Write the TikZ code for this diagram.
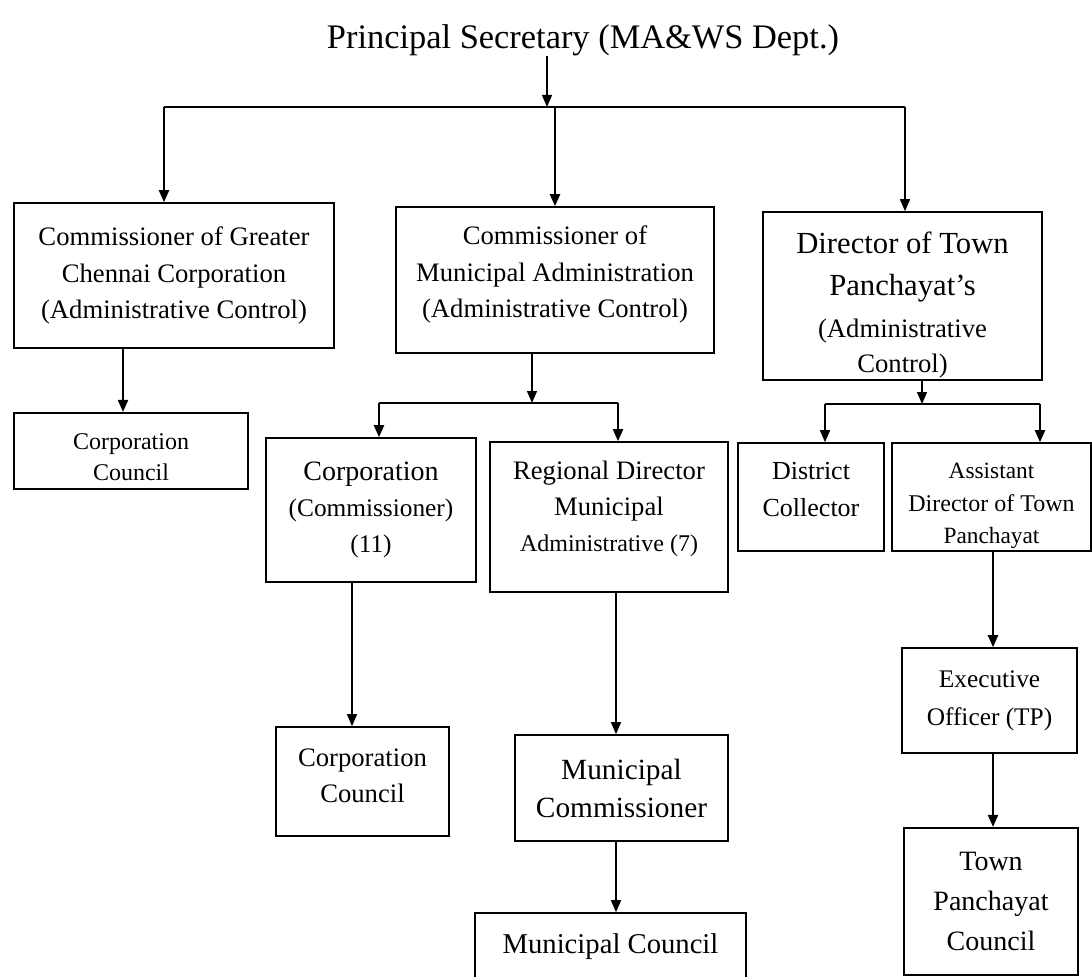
\documentclass[tikz,border=0pt]{standalone}
\usepackage{fontspec}
\setmainfont{Liberation Serif}
\usetikzlibrary{arrows.meta}

% font size helper: size and baseline skip in pt
\newcommand{\fsz}[2]{\fontsize{#1}{#2}\selectfont}
% invisible struts that push a text block down (taller first line) or up (deeper last line)
\newcommand{\tallstrut}[1]{\rule{0pt}{#1}}
\newcommand{\deepstrut}[1]{\rule[-#1]{0pt}{#1}}

\begin{document}
\begin{tikzpicture}[x=0.75pt,y=-0.75pt,
  box/.style={draw, rectangle, line width=1.2pt, inner sep=0pt, align=center},
  link/.style={line width=0.9pt},
  heavy/.style={line width=1.6pt},
  arr/.style={link, -{Triangle[length=9pt,width=7.5pt]}},
  harr/.style={heavy, -{Triangle[length=9pt,width=7.5pt]}},
]
\useasboundingbox (0,0) rectangle (1092,977);
\clip (0,0) rectangle (1092,977);
\fill[white] (0,0) rectangle (1092,977);

% ---- top level ----
\node[inner sep=0pt, font=\fsz{25.8}{30}] (ps) at (583,40) {Principal Secretary (MA\&WS Dept.)};

\node[box, minimum width=240pt, minimum height=108.75pt, font=\fsz{20}{27.4}] (b1) at (174,275.5)
  {Commissioner of Greater\\Chennai Corporation\\(Administrative Control)};
\node[box, minimum width=238.5pt, minimum height=109.5pt, font=\fsz{20}{27.4}] (b2) at (555,280)
  {Commissioner of\\Municipal Administration\\(Administrative Control)\deepstrut{12pt}};
\node[box, minimum width=209.25pt, minimum height=126pt, font=\fsz{23}{31.5}] (b3) at (902.5,296)
  {\tallstrut{30pt}Director of Town\\Panchayat's\\{\fsz{20}{26}(Administrative}\\[-5.25pt]{\fsz{20}{26}Control)}};

% ---- second level ----
\node[box, line width=1.6pt, minimum width=175.5pt, minimum height=57pt, font=\fsz{18}{23.3}] (cc1) at (131,451)
  {\tallstrut{21pt}Corporation\\Council};
\node[box, minimum width=157.5pt, minimum height=108pt, font=\fsz{19}{27}] (c11) at (371,510)
  {{\fsz{21}{28}Corporation}\\(Commissioner)\\(11)};
\node[box, minimum width=178.5pt, minimum height=112.5pt, font=\fsz{20}{27}] (rd) at (609,517)
  {Regional Director\\Municipal\\{\fsz{18}{27}Administrative (7)\deepstrut{16pt}}};
\node[box, minimum width=109.5pt, minimum height=81pt, font=\fsz{19.5}{27.8}] (dc) at (811,497)
  {District\\Collector\deepstrut{12pt}};
\node[box, minimum width=149.25pt, minimum height=81pt, font=\fsz{17.5}{24.4}] (asst) at (991.5,497)
  {\tallstrut{25pt}Assistant\\{\fsz{18}{24}Director of Town}\\Panchayat};

% ---- lower levels ----
\node[box, minimum width=129.75pt, minimum height=81.75pt, font=\fsz{20}{27}] (cc2) at (362.5,781.5)
  {Corporation\\Council\deepstrut{9pt}};
\node[box, minimum width=159.75pt, minimum height=79.5pt, font=\fsz{22}{28.5}] (mc) at (621.5,788)
  {Municipal\\Commissioner};
\node[box, anchor=base, minimum width=203.25pt, text height=30pt, text depth=35.25pt, font=\fsz{21.5}{26}] (munc) at (610.5,953)
  {Municipal Council};
\node[box, minimum width=131.25pt, minimum height=78.75pt, font=\fsz{19}{28.5}] (exec) at (989.5,700.5)
  {Executive\\Officer (TP)};
\node[box, line width=1.6pt, minimum width=130.5pt, minimum height=110.25pt, font=\fsz{21}{30}] (tpc) at (991,901.5)
  {Town\\Panchayat\\Council};

% ---- connectors from the secretary ----
\coordinate (bus)  at (547,107);
\coordinate (busL) at (164,107);
\coordinate (busR) at (905,107);
\draw[arr] (ps.south -| bus) -- (bus);
\draw[heavy] (busL) -- (busR);
\draw[harr] (busL) -- (busL |- b1.north);
\draw[harr] (b2.north |- busL) -- (b2.north);
\draw[arr] (busR) -- (busR |- b3.north);

% ---- Greater Chennai branch ----
\draw[harr] (b1.south -| 123,0) -- (cc1.north -| 123,0);

% ---- Municipal Administration branch ----
\coordinate (split2) at (532,403);
\coordinate (s2L) at (379,403);
\coordinate (s2R) at (618,403);
\draw[arr] (b2.south -| split2) -- (split2);
\draw[heavy] (s2L) -- (s2R);
\draw[harr] (s2L) -- (s2L |- c11.north);
\draw[harr] (s2R) -- (s2R |- rd.north);
\draw[arr] (c11.south -| 352,0) -- (cc2.north -| 352,0);
\draw[arr] (rd.south -| 616,0) -- (mc.north -| 616,0);
\draw[arr] (mc.south -| 616,0) -- (munc.north -| 616,0);

% ---- Town Panchayat branch ----
\coordinate (split3) at (922,404);
\coordinate (s3L) at (825,404);
\coordinate (s3R) at (1040,404);
\draw[arr] (b3.south -| split3) -- (split3);
\draw[link] (s3L) -- (s3R);
\draw[arr] (s3L) -- (s3L |- dc.north);
\draw[harr] (s3R) -- (s3R |- asst.north);
\draw[harr] (asst.south -| 993,0) -- (exec.north -| 993,0);
\draw[harr] (exec.south -| 993,0) -- (tpc.north -| 993,0);
\end{tikzpicture}
\end{document}
